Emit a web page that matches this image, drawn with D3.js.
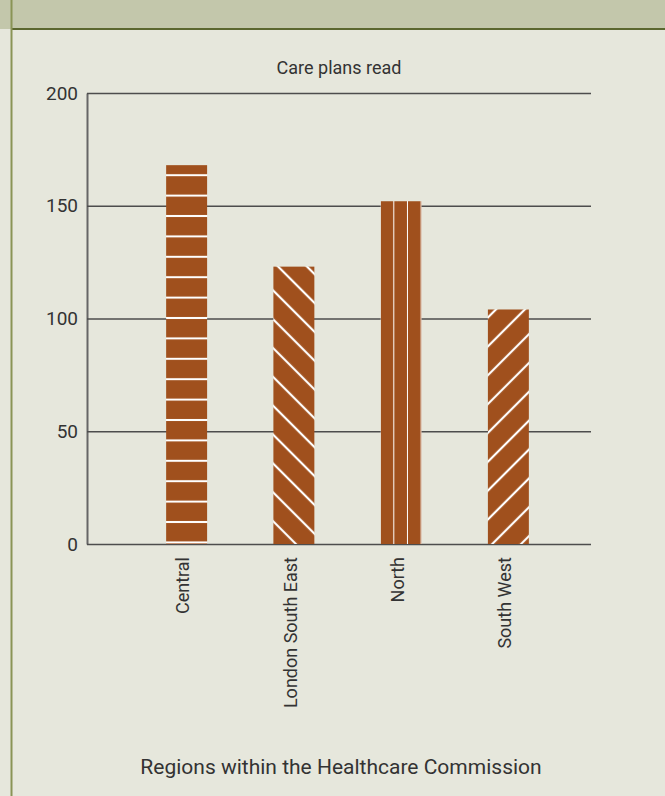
<!DOCTYPE html>
<html>
<head>
<meta charset="utf-8">
<script src="https://cdn.jsdelivr.net/npm/d3@7"></script>
<style>
  html, body { margin: 0; padding: 0; background: #e6e7dc; }
  svg { display: block; }
  text { font-family: Roboto, "Noto Sans", sans-serif; fill: #333; }
</style>
</head>
<body>
<svg width="665" height="796"></svg>
<script>
// data
var regions = ['Central', 'London South East', 'North', 'South West'];
var carePlansRead = [168, 123, 152, 104];
var yTicks = [0, 50, 100, 150, 200];
var chartTitle = 'Care plans read';
var xTitle = 'Regions within the Healthcare Commission';

// fill style per bar (pattern kind)
var fillKind = {
    'Central': 'horiz',
    'London South East': 'back',
    'North': 'vert',
    'South West': 'fwd'
};

var W = 665, H = 796;
var margin = {left: 87, right: 74, top: 93, bottom: 252};
var barColor = '#a0501d';

var svg = d3.select('svg');

// panel background and header band
svg.append('rect').attr('width', W).attr('height', H).attr('fill', '#e6e7dc');
svg.append('rect').attr('width', W).attr('height', 29).attr('fill', '#c3c7ab');
svg.append('line')
    .attr('x1', 11).attr('x2', W).attr('y1', 29).attr('y2', 29)
    .attr('stroke', '#5b672f').attr('stroke-width', 2);
svg.append('line')
    .attr('x1', 11.5).attr('x2', 11.5).attr('y1', 0).attr('y2', H)
    .attr('stroke', '#8a9456').attr('stroke-width', 2);

var y = d3.scaleLinear()
    .domain([0, 200])
    .range([H - margin.bottom, margin.top]);

var x = d3.scaleBand()
    .domain(regions)
    .range([133, 562])
    .paddingInner(0.618)
    .paddingOuter(0.309);

var plotW = W - margin.right - margin.left;

// patterns
var defs = svg.append('defs');
var gap = 20.4;
regions.forEach(function(r, i) {
    var kind = fillKind[r];
    var p = defs.append('pattern')
        .attr('id', 'pat' + i)
        .attr('patternUnits', 'userSpaceOnUse');
    if (kind == 'horiz') {
        p.attr('x', 0).attr('y', y(0) - 22)
            .attr('width', 10).attr('height', gap);
        p.append('rect').attr('width', 10).attr('height', gap).attr('fill', barColor);
        p.append('rect').attr('y', -1).attr('width', 10).attr('height', 2).attr('fill', '#fff');
        p.append('rect').attr('y', gap - 1).attr('width', 10).attr('height', 2).attr('fill', '#fff');
    } else if (kind == 'vert') {
        var w3 = x.bandwidth() / 3;
        p.attr('x', x(r)).attr('y', 0)
            .attr('width', w3).attr('height', 10);
        p.append('rect').attr('width', w3).attr('height', 10).attr('fill', barColor);
        p.append('rect').attr('x', w3 - 1).attr('width', 2).attr('height', 10).attr('fill', '#fff');
    } else {
        p.attr('x', x(r)).attr('y', y(0))
            .attr('width', gap).attr('height', 10)
            .attr('patternTransform', 'rotate(' + (kind == 'back' ? -45 : 45) + ')');
        p.append('rect').attr('width', gap).attr('height', 10).attr('fill', barColor);
        p.append('rect').attr('x', gap - 1.1).attr('width', 2.2).attr('height', 10).attr('fill', '#fff');
        p.append('rect').attr('x', -1.1).attr('width', 2.2).attr('height', 10).attr('fill', '#fff');
    }
});

// y axis with gridlines
var yAxis = svg.append('g')
    .attr('transform', 'translate(' + margin.left + ',0)')
    .call(d3.axisLeft(y).tickValues(yTicks)
          .tickSizeInner(-plotW).tickSizeOuter(0).tickPadding(9));
yAxis.select('.domain').attr('stroke', '#666').attr('stroke-width', 2);
yAxis.selectAll('.tick line').attr('stroke', '#4d4d4d').attr('stroke-width', 1.6);
yAxis.selectAll('.tick text')
    .style('font-family', 'Roboto, sans-serif')
    .attr('font-size', 19).attr('fill', '#333');

// bars
svg.append('g').selectAll('rect')
    .data(regions)
    .join('rect')
    .attr('x', function(d) { return x(d); })
    .attr('width', x.bandwidth())
    .attr('y', function(d, i) { return y(carePlansRead[i]); })
    .attr('height', function(d, i) { return y(0) - y(carePlansRead[i]); })
    .attr('fill', function(d, i) { return 'url(#pat' + i + ')'; });

// category labels, rotated
svg.append('g').selectAll('text')
    .data(regions)
    .join('text')
    .attr('transform', function(d) {
        return 'translate(' + (x(d) + x.bandwidth() / 2) + ',' + (y(0) + 13) + ') rotate(-90)';
    })
    .attr('dy', '0.15em')
    .attr('text-anchor', 'end')
    .attr('font-size', 18)
    .text(function(d) { return d; });

// titles
svg.append('text')
    .attr('x', margin.left + plotW / 2)
    .attr('y', 74)
    .attr('text-anchor', 'middle')
    .attr('font-size', 18)
    .text(chartTitle);

svg.append('text')
    .attr('x', 341)
    .attr('y', 774)
    .attr('text-anchor', 'middle')
    .attr('font-size', 21)
    .text(xTitle);
</script>
</body>
</html>
